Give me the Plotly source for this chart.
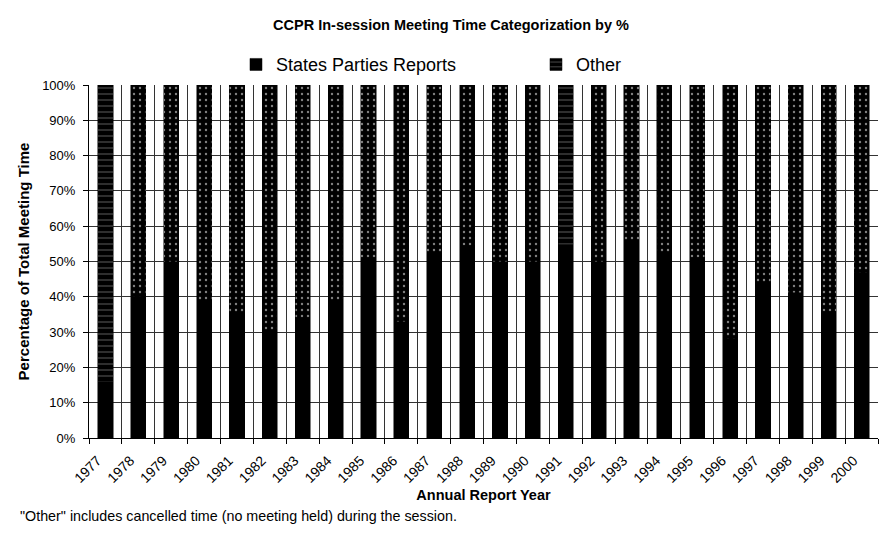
import plotly.graph_objects as go

years = [str(y) for y in range(1977, 2001)]
spr = [16, 40, 50, 39, 35, 30, 34, 39, 51, 33, 52, 54.5, 50, 50, 54.7, 50, 55.8, 52,
       51, 28, 43.6, 41.2, 35.8, 46.7]
other = [round(100 - v, 1) for v in spr]
other_shapes = ["-", ".", ".", ".", ".", ".", ".", ".", ".", ".", ".", ".", ".", ".",
                "-", ".", ".", ".", ".", ".", ".", ".", ".", "."]

font = "Liberation Sans, Arial, sans-serif"

fig = go.Figure()
fig.add_trace(go.Bar(
    x=years, y=spr, name="States Parties Reports",
    marker=dict(color="black", line=dict(color="black", width=0.5)),
))
fig.add_trace(go.Bar(
    x=years, y=other, name="Other",
    marker=dict(color="black", line=dict(color="black", width=0.5),
                pattern=dict(shape=other_shapes, fgcolor="white", bgcolor="black",
                             size=6, solidity=0.12, fillmode="overlay")),
))

# page body has an 8px margin, so the figure is drawn 8px smaller/shifted
fig.update_layout(
    barmode="stack",
    bargap=0.54,
    width=886, height=528,
    margin=dict(l=81, r=16, t=77, b=98, autoexpand=False),
    paper_bgcolor="white", plot_bgcolor="white",
    font=dict(family=font, color="black", size=13),
    title=dict(text="<b>CCPR In-session Meeting Time Categorization by %</b>",
               x=0.5, xanchor="center", y=0.968, yanchor="middle",
               font=dict(size=14.5)),
    legend=dict(orientation="h", x=0.1863, xanchor="left", y=1.005, yanchor="bottom",
                font=dict(size=18), itemwidth=30, traceorder="normal",
                entrywidth=255, entrywidthmode="pixels"),
    showlegend=True,
)
fig.update_xaxes(
    type="category", tickson="boundaries", ticks="outside", ticklen=5,
    tickcolor="black", showgrid=True, gridcolor="#333333", gridwidth=1,
    tickangle=-45, tickfont=dict(size=14), automargin=False,
    ticklabelstandoff=8, ticklabelshift=-8,
    showline=True, linecolor="black", linewidth=1, mirror=False,
    title=dict(text="<b>Annual Report Year</b>", font=dict(size=14.5), standoff=4),
)
fig.update_yaxes(
    range=[0, 100], dtick=10, ticksuffix="%", ticks="outside", ticklen=5,
    tickcolor="black", showgrid=True, gridcolor="#333333", gridwidth=1,
    showline=True, linecolor="black", linewidth=1, zeroline=False,
    tickfont=dict(size=13), automargin=False, ticklabelstandoff=5,
    title=dict(text="<b>Percentage of Total Meeting Time</b>", font=dict(size=15), standoff=8),
)
fig.add_annotation(
    text='"Other" includes cancelled time (no meeting held) during the session.',
    xref="paper", yref="paper", x=-0.09, y=-0.221, xanchor="left", yanchor="middle",
    showarrow=False, font=dict(size=14.3),
)

fig.write_html("out.html")
